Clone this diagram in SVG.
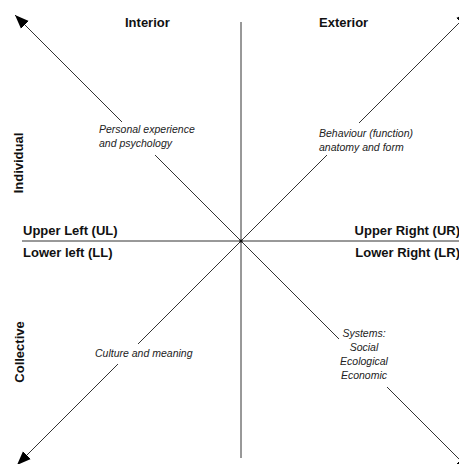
<svg xmlns="http://www.w3.org/2000/svg" width="459" height="464" viewBox="0 0 459 464">
<defs>
<marker id="arr" markerUnits="userSpaceOnUse" markerWidth="16" markerHeight="12" refX="14" refY="6" orient="auto">
<path d="M0,0.5 L14,6 L0,11.5 z" fill="#000"/>
</marker>
<style>
.ax{stroke:#333;stroke-width:1;fill:none}
.dg{stroke:#333;stroke-width:1;fill:none}
.hd{font-family:"Liberation Sans",Arial,sans-serif;font-weight:bold;font-size:13px;fill:#111}
.it{font-family:"Liberation Sans",Arial,sans-serif;font-style:italic;font-size:10.5px;fill:#222}
</style>
</defs>
<rect width="459" height="464" fill="#fff"/>
<g id="connectors">
<line class="ax" x1="241" y1="22" x2="241" y2="458"/>
<line class="ax" x1="22" y1="241" x2="459" y2="241"/>
<line class="dg" x1="241" y1="241" x2="155" y2="155"/>
<line class="dg" x1="122" y1="122" x2="15" y2="15" marker-end="url(#arr)"/>
<line class="dg" x1="241" y1="241" x2="327" y2="155"/>
<line class="dg" x1="359" y1="123" x2="470" y2="12" marker-end="url(#arr)"/>
<line class="dg" x1="241" y1="241" x2="138" y2="344"/>
<line class="dg" x1="118" y1="364" x2="17" y2="465" marker-end="url(#arr)"/>
<line class="dg" x1="241" y1="241" x2="339" y2="339"/>
<line class="dg" x1="387" y1="387" x2="470" y2="470" marker-end="url(#arr)"/>
<circle cx="241" cy="241" r="1.6" fill="#111"/>
</g>
<g id="interior"><text class="hd" x="125" y="27">Interior</text></g>
<g id="exterior"><text class="hd" x="319" y="27">Exterior</text></g>
<g id="individual"><text class="hd" transform="translate(23,163) rotate(-90)" text-anchor="middle">Individual</text></g>
<g id="collective"><text class="hd" transform="translate(24,352) rotate(-90)" text-anchor="middle">Collective</text></g>
<g id="ul"><text class="hd" x="23" y="235">Upper Left (UL)</text></g>
<g id="ll"><text class="hd" x="23" y="257">Lower left (LL)</text></g>
<g id="ur"><text class="hd" x="460" y="235" text-anchor="end">Upper Right (UR)</text></g>
<g id="lr"><text class="hd" x="460" y="257" text-anchor="end">Lower Right (LR)</text></g>
<g id="personal"><text class="it" x="99" y="133">Personal experience</text><text class="it" x="99" y="147">and psychology</text></g>
<g id="behaviour"><text class="it" x="319" y="137">Behaviour (function)</text><text class="it" x="319" y="151">anatomy and form</text></g>
<g id="culture"><text class="it" x="95" y="357">Culture and meaning</text></g>
<g id="systems"><text class="it" text-anchor="middle"><tspan x="364" y="337">Systems:</tspan><tspan x="364" y="351">Social</tspan><tspan x="364" y="365">Ecological</tspan><tspan x="364" y="379">Economic</tspan></text></g>
</svg>
